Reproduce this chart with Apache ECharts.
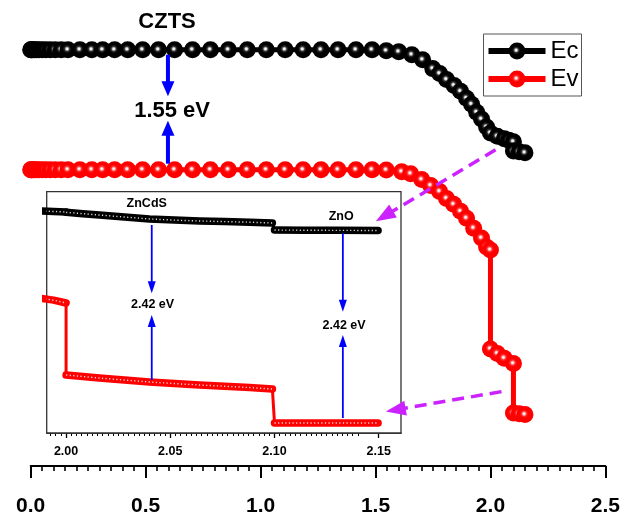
<!DOCTYPE html>
<html><head><meta charset="utf-8">
<script src="https://cdn.jsdelivr.net/npm/echarts@6/dist/echarts.min.js"></script>
<style>html,body{margin:0;padding:0;background:#fff}#c{width:623px;height:517px}</style>
</head><body><div id="c"></div>
<script>
// ---- main chart data (x = position, y = energy in eV, Ec(CZTS) = 0) ----
const ecMain = [[0,0],[0.002,0],[0.005,0],[0.01,0],[0.017,0],[0.026,0],[0.037,0],[0.05,0],[0.066,0],[0.085,0],[0.107,0],[0.133,0],[0.162,0],[0.214,0],[0.266,0],[0.313,0],[0.365,0],[0.422,0],[0.487,0],[0.556,0],[0.626,0],[0.704,0],[0.782,0],[0.860,0],[0.942,0],[1.025,0],[1.107,0],[1.185,0],[1.263,0],[1.337,0],[1.415,0],[1.485,0],[1.547,-0.013],[1.601,-0.026],[1.658,-0.064],[1.705,-0.128],[1.749,-0.244],[1.779,-0.308],[1.809,-0.385],[1.842,-0.462],[1.870,-0.538],[1.896,-0.628],[1.918,-0.705],[1.940,-0.808],[1.961,-0.897],[1.983,-1.0],[2.000,-1.077],[2.03,-1.12],[2.06,-1.15],[2.08,-1.17],[2.10,-1.19],[2.10,-1.31],[2.125,-1.32],[2.15,-1.333]];
const evMain = [[0,-1.551],[0.002,-1.551],[0.005,-1.551],[0.01,-1.551],[0.017,-1.551],[0.026,-1.551],[0.037,-1.551],[0.05,-1.551],[0.066,-1.551],[0.085,-1.551],[0.107,-1.551],[0.133,-1.551],[0.162,-1.551],[0.214,-1.551],[0.266,-1.551],[0.313,-1.551],[0.365,-1.551],[0.422,-1.551],[0.487,-1.551],[0.556,-1.551],[0.626,-1.551],[0.704,-1.551],[0.782,-1.551],[0.860,-1.551],[0.942,-1.551],[1.025,-1.551],[1.107,-1.551],[1.185,-1.551],[1.263,-1.551],[1.337,-1.551],[1.415,-1.551],[1.485,-1.551],[1.547,-1.555],[1.614,-1.577],[1.653,-1.603],[1.701,-1.679],[1.740,-1.756],[1.779,-1.833],[1.809,-1.923],[1.840,-2.0],[1.870,-2.09],[1.896,-2.179],[1.927,-2.308],[1.961,-2.436],[1.983,-2.551],[2.0,-2.59],[2.0,-3.87],[2.03,-3.93],[2.06,-3.99],[2.1,-4.06],[2.1,-4.70],[2.125,-4.71],[2.15,-4.72]];
const mainLabels = ['0.0','0.5','1.0','1.5','2.0','2.5'];

// ---- inset data ----
const insetEcCZTS = [[1.9865,0],[1.994,-0.007],[2.0,-0.015]];
const insetEcCdS = [[2.0,-0.02],[2.008,-0.04],[2.016,-0.06],[2.028,-0.09],[2.040,-0.119],[2.052,-0.136],[2.064,-0.149],[2.076,-0.158],[2.088,-0.167],[2.099,-0.179]];
const insetEcZnO = [[2.1,-0.284],[2.115,-0.287],[2.13,-0.289],[2.1497,-0.291]];
const insetEvCZTS = [[1.9865,-1.299],[1.994,-1.33],[2.0,-1.373]];
const insetEvCdS = [[2.0,-2.448],[2.008,-2.47],[2.016,-2.493],[2.028,-2.522],[2.040,-2.552],[2.052,-2.575],[2.064,-2.597],[2.076,-2.615],[2.088,-2.635],[2.099,-2.657]];
const insetEvZnO = [[2.1,-3.164],[2.115,-3.164],[2.13,-3.164],[2.1497,-3.164]];
const insetTickLabels = [2.00, 2.05, 2.10, 2.15];

// ---- annotations (data coords) ----
const mainTexts = [{t:'CZTS', p:[0.593,0.36]}, {t:'1.55 eV', p:[0.615,-0.795]}];
const mainBlueArrows = [[[0.597,-0.064],[0.597,-0.603]], [[0.597,-1.474],[0.597,-0.919]]];
const magentaArrows = [[[2.022,-1.295],[1.5015,-2.218]], [[2.048,-4.423],[1.545,-4.679]]];
const insetTexts = [{t:'ZnCdS', p:[2.0387,0.104]}, {t:'2.42 eV', p:[2.0415,-1.403]}, {t:'ZnO', p:[2.132,-0.0896]}, {t:'2.42 eV', p:[2.1334,-1.716]}];
const insetBlueArrows = [[[2.0411,-0.209],[2.0411,-1.228]], [[2.0411,-2.522],[2.0411,-1.552]], [[2.1328,-0.328],[2.1328,-1.503]], [[2.1328,-3.09],[2.1328,-1.851]]];

const chart = echarts.init(document.getElementById('c'), null, {renderer:'canvas'});
const G = echarts.graphic;
const blackBall = new G.RadialGradient(0.45, 0.45, 0.5, [{offset:0,color:'#ffffff'},{offset:0.12,color:'#e8e8e8'},{offset:0.3,color:'#303030'},{offset:0.5,color:'#000'},{offset:1,color:'#000'}]);
const redBall = new G.RadialGradient(0.45, 0.45, 0.5, [{offset:0,color:'#ffffff'},{offset:0.12,color:'#ffe0e0'},{offset:0.3,color:'#ff3030'},{offset:0.5,color:'#ff0000'},{offset:1,color:'#ff0000'}]);

const minorVals = [];
for (let i = 0; i <= 60; i++) { const v = 1.99 + i * 0.0025; if (v <= 2.1607) minorVals.push(+v.toFixed(4)); }

function thick(data, color) {
  return [{type:'line', xAxisIndex:1, yAxisIndex:1, data, clip:false, showSymbol:false, silent:true,
    lineStyle:{color, width:7.5, cap:'round', join:'round'}, z:5},
   {type:'line', xAxisIndex:1, yAxisIndex:1, data, clip:false, showSymbol:false, silent:true,
    lineStyle:{color:'rgba(255,255,255,0.85)', width:1.4, type:[1.2,2.4]}, z:6}];
}
const series = [
  {type:'line', name:'Ec', data:ecMain, xAxisIndex:0, yAxisIndex:0, symbol:'circle', symbolSize:17, clip:false,
   lineStyle:{color:'#000', width:5}, itemStyle:{color:blackBall}, z:3},
  {type:'line', name:'Ev', data:evMain, xAxisIndex:0, yAxisIndex:0, symbol:'circle', symbolSize:17, clip:false,
   lineStyle:{color:'#ff0000', width:5}, itemStyle:{color:redBall}, z:3},
  {type:'line', name:'insetEc', data:insetEcCZTS.concat(insetEcCdS, insetEcZnO), xAxisIndex:1, yAxisIndex:1, showSymbol:false, clip:false,
   lineStyle:{color:'#000', width:3}, z:4},
  {type:'line', name:'insetEv', data:insetEvCZTS.concat(insetEvCdS, insetEvZnO), xAxisIndex:1, yAxisIndex:1, showSymbol:false, clip:false,
   lineStyle:{color:'#ff0000', width:3}, z:4},
  ...thick(insetEcCZTS,'#000'), ...thick(insetEcCdS,'#000'), ...thick(insetEcZnO,'#000'),
  ...thick(insetEvCZTS,'#ff0000'), ...thick(insetEvCdS,'#ff0000'), ...thick(insetEvZnO,'#ff0000')
];

chart.setOption({
  animation:false,
  backgroundColor:'#fff',
  grid:[{left:30.7, top:20, width:576.6, height:450, show:false},
        {left:46.7, top:191.7, width:354.3, height:241.3, show:true, borderColor:'#333', borderWidth:1.3, backgroundColor:'#fff', z:1}],
  xAxis:[
    {gridIndex:0, type:'value', min:0, max:2.5, interval:0.5, position:'bottom', splitLine:{show:false},
     axisLine:{onZero:false, lineStyle:{color:'#000', width:2}},
     axisTick:{length:12, lineStyle:{color:'#000', width:2}},
     minorTick:{show:true, splitNumber:10, length:5, lineStyle:{color:'#000', width:1.6}},
     axisLabel:{margin:30, color:'#000', fontSize:21, fontWeight:'bold', fontFamily:'Liberation Sans',
       formatter:(v)=>mainLabels[Math.round(v/0.5)]}},
    {gridIndex:1, type:'value', min:1.9907, max:2.1607, position:'bottom', splitLine:{show:false},
     axisLine:{onZero:false, lineStyle:{color:'#000', width:1.5}},
     axisTick:{customValues:insetTickLabels, length:5, lineStyle:{color:'#000', width:1.3}},
     axisLabel:{customValues:insetTickLabels, margin:12, color:'#000', fontSize:12.5, fontWeight:'bold', fontFamily:'Liberation Sans',
       formatter:(v)=>v.toFixed(2)}},
    {gridIndex:1, type:'value', min:1.9907, max:2.1607, position:'bottom', offset:0, splitLine:{show:false},
     axisLine:{show:false, onZero:false}, axisLabel:{show:false},
     axisTick:{customValues:minorVals, length:3, lineStyle:{color:'#000', width:1}}}
  ],
  yAxis:[
    {gridIndex:0, type:'value', min:-5.385, max:0.385, show:false},
    {gridIndex:1, type:'value', min:-3.313, max:0.288, show:false}
  ],
  legend:{data:['Ec','Ev'], left:483.5, top:34, orient:'vertical', itemWidth:57, itemHeight:21, itemGap:4,
    borderColor:'#555', borderWidth:1, padding:[5,3,5,2], lineStyle:{width:6},
    textStyle:{fontSize:24, color:'#000', fontFamily:'Liberation Sans'}},
  series
});

function px(p, g) { return chart.convertToPixel({xAxisIndex: g===0?0:1, yAxisIndex: g}, p); }
function arrow(a, b, color, width, headLen, headW, dash) {
  const dx=b[0]-a[0], dy=b[1]-a[1], L=Math.hypot(dx,dy), ux=dx/L, uy=dy/L;
  const bx=b[0]-ux*headLen, by=b[1]-uy*headLen, nx=-uy, ny=ux;
  return [
    {type:'line', shape:{x1:a[0],y1:a[1],x2:bx+ux*1,y2:by+uy*1}, style:{stroke:color, lineWidth:width, lineDash:dash||null}, z:100},
    {type:'polygon', shape:{points:[[b[0],b[1]],[bx+nx*headW/2,by+ny*headW/2],[bx-nx*headW/2,by-ny*headW/2]]}, style:{fill:color}, z:100}
  ];
}
const gfx = [];
mainTexts.forEach(o=>{ const p=px(o.p,0); gfx.push({type:'text', x:p[0], y:p[1], z:100,
  style:{text:o.t, font:'bold 22px "Liberation Sans"', fill:'#000', align:'center', verticalAlign:'middle'}}); });
mainBlueArrows.forEach(a=>gfx.push(...arrow(px(a[0],0), px(a[1],0), '#0000ff', 4, 15, 13)));
insetTexts.forEach(o=>{ const p=px(o.p,1); gfx.push({type:'text', x:p[0], y:p[1], z:100,
  style:{text:o.t, font:'bold 12.5px "Liberation Sans"', fill:'#000', align:'center', verticalAlign:'middle'}}); });
insetBlueArrows.forEach(a=>gfx.push(...arrow(px(a[0],1), px(a[1],1), '#0000ff', 1.8, 12, 8)));
magentaArrows.forEach(a=>gfx.push(...arrow(px(a[0],0), px(a[1],0), '#cc22ff', 3.5, 20, 15, [12,7])));
chart.setOption({graphic:gfx});
</script></body></html>
